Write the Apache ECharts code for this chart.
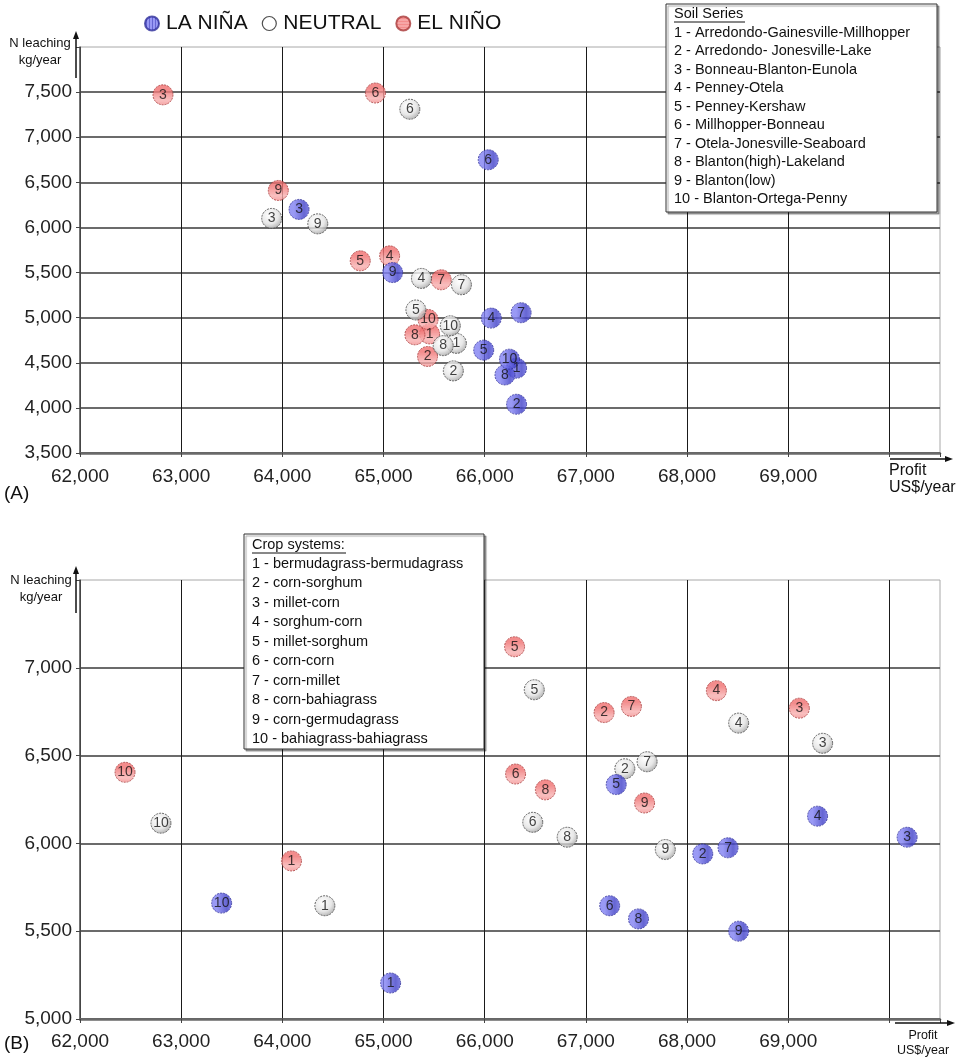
<!DOCTYPE html>
<html>
<head>
<meta charset="utf-8">
<script src="https://cdn.jsdelivr.net/npm/echarts@6/dist/echarts.min.js"></script>
<style>
html,body{margin:0;padding:0;background:#fff;}
#chart{width:960px;height:1058px;}
</style>
</head>
<body>
<div id="chart"></div>
<script>
// ---------- DATA ----------
const phaseNames = ['LA NIÑA', 'NEUTRAL', 'EL NIÑO'];
const pointIds = [1, 2, 3, 4, 5, 6, 7, 8, 9, 10];

// Panel A: soil series (profit US$/year, N leaching kg/year)
const soilNames = ['1 - Arredondo-Gainesville-Millhopper', '2 - Arredondo- Jonesville-Lake', '3 - Bonneau-Blanton-Eunola',
  '4 - Penney-Otela', '5 - Penney-Kershaw', '6 - Millhopper-Bonneau', '7 - Otela-Jonesville-Seaboard',
  '8 - Blanton(high)-Lakeland', '9 - Blanton(low)', '10 - Blanton-Ortega-Penny'];
const laNinaSoilProfit  = [66315, 66315, 64165, 66065, 65990, 66035, 66360, 66200, 65090, 66245];
const laNinaSoilN       = [4440, 4040, 6200, 4995, 4640, 6750, 5055, 4365, 5500, 4540];
const neutralSoilProfit = [65720, 65690, 63895, 65375, 65320, 65260, 65770, 65590, 64350, 65660];
const neutralSoilN      = [4715, 4410, 6100, 5435, 5085, 7310, 5365, 4690, 6040, 4910];
const elNinoSoilProfit  = [65455, 65435, 62820, 65060, 64770, 64920, 65570, 65310, 63960, 65440];
const elNinoSoilN       = [4820, 4570, 7470, 5685, 5630, 7490, 5420, 4810, 6410, 4980];

// Panel B: crop systems
const cropNames = ['1 - bermudagrass-bermudagrass', '2 - corn-sorghum', '3 - millet-corn', '4 - sorghum-corn',
  '5 - millet-sorghum', '6 - corn-corn', '7 - corn-millet', '8 - corn-bahiagrass', '9 - corn-germudagrass',
  '10 - bahiagrass-bahiagrass'];
const laNinaCropProfit  = [65070, 68155, 70175, 69290, 67300, 67235, 68405, 67520, 68510, 63400];
const laNinaCropN       = [5205, 5940, 6035, 6155, 6335, 5645, 5975, 5570, 5500, 5660];
const neutralCropProfit = [64420, 67385, 69340, 68510, 66490, 66475, 67605, 66815, 67785, 62800];
const neutralCropN      = [5645, 6425, 6570, 6685, 6875, 6120, 6465, 6035, 5965, 6115];
const elNinoCropProfit  = [64090, 67180, 69110, 68290, 66295, 66305, 67450, 66600, 67580, 62445];
const elNinoCropN       = [5900, 6745, 6770, 6870, 7120, 6395, 6780, 6305, 6230, 6405];

// Tick labels
const xTickValues  = [62000, 63000, 64000, 65000, 66000, 67000, 68000, 69000];
const yTickValuesA = [3500, 4000, 4500, 5000, 5500, 6000, 6500, 7000, 7500];
const yTickValuesB = [5000, 5500, 6000, 6500, 7000];

// ---------- CHART ----------
const FONT = 'Liberation Sans, Arial, sans-serif';
const fmt = v => v.toLocaleString('en-US');
const pts = (xs, ys) => pointIds.map((id, i) => [xs[i], ys[i], id]);

function stripePattern(base, stripe, vertical) {
  const c = document.createElement('canvas');
  c.width = 3; c.height = 3;
  const g = c.getContext('2d');
  g.fillStyle = base; g.fillRect(0, 0, 3, 3);
  g.fillStyle = stripe;
  if (vertical) g.fillRect(0, 0, 1, 3); else g.fillRect(0, 0, 3, 1);
  return { image: c, repeat: 'repeat' };
}

const styleOf = {
  'LA NIÑA': {
    color: stripePattern('#8080f2', '#4040c8', true),
    borderColor: '#30309a', borderWidth: 1, borderType: [2, 1]
  },
  'NEUTRAL': {
    color: { type: 'radial', x: 0.4, y: 0.35, r: 0.75,
      colorStops: [{ offset: 0, color: '#ffffff' }, { offset: 0.55, color: '#e2e2e2' }, { offset: 1, color: '#8c8c8c' }] },
    borderColor: '#444', borderWidth: 1, borderType: [2, 1]
  },
  'EL NIÑO': {
    color: stripePattern('#f07070', '#f8b0b0', false),
    borderColor: '#a83838', borderWidth: 1, borderType: [2, 1]
  }
};

function makeSeries(name, data, idx, z) {
  return {
    name: name, type: 'scatter', xAxisIndex: idx, yAxisIndex: idx, z: z,
    symbol: 'circle', symbolSize: 20,
    data: data,
    itemStyle: styleOf[name],
    label: { show: true, position: 'inside', formatter: p => p.value[2],
      fontSize: 14, fontFamily: FONT, color: '#111' },
    emphasis: { disabled: true }
  };
}

const series = [
  makeSeries('EL NIÑO', pts(elNinoSoilProfit, elNinoSoilN), 0, 2),
  makeSeries('NEUTRAL', pts(neutralSoilProfit, neutralSoilN), 0, 3),
  makeSeries('LA NIÑA', pts(laNinaSoilProfit, laNinaSoilN), 0, 4),
  makeSeries('EL NIÑO', pts(elNinoCropProfit, elNinoCropN), 1, 2),
  makeSeries('NEUTRAL', pts(neutralCropProfit, neutralCropN), 1, 3),
  makeSeries('LA NIÑA', pts(laNinaCropProfit, laNinaCropN), 1, 4)
];

function xAxis(idx, margin) {
  return {
    type: 'value', gridIndex: idx, min: 62000, max: 70500, interval: 1000,
    axisLine: { show: true, lineStyle: { color: '#6a6a6a', width: 2.5 } },
    axisTick: { show: true, length: 4, lineStyle: { color: '#444' } },
    axisLabel: { margin: margin, fontSize: 19, fontFamily: FONT, color: '#222',
      formatter: v => xTickValues.includes(v) ? fmt(v) : '' },
    splitLine: { show: true, showMaxLine: false, lineStyle: { color: '#1a1a1a', width: 1 } }
  };
}
function yAxis(idx, min, max, ticks) {
  return {
    type: 'value', gridIndex: idx, min: min, max: max, interval: 500,
    axisLine: { show: true, lineStyle: { color: '#555', width: 1.5 } },
    axisTick: { show: true, length: 4, lineStyle: { color: '#444' } },
    axisLabel: { margin: 8, fontSize: 19, fontFamily: FONT, color: '#222',
      formatter: v => ticks.includes(v) ? fmt(v) : '' },
    splitLine: { show: true, showMaxLine: false, lineStyle: { color: '#3a3a3a', width: 1.5 } }
  };
}

function textEl(x, y, text, size, opts) {
  return Object.assign({
    type: 'text', x: x, y: y, z: 20,
    style: Object.assign({ text: text, fontSize: size, fontFamily: FONT, fill: '#111',
      verticalAlign: 'middle', align: 'left' }, (opts && opts.style) || {})
  }, opts && opts.el || {});
}
function boxElements(x, y, w, h, title, titleY, firstY, step, lines, underlineW) {
  const els = [];
  els.push({ type: 'rect', z: 15, shape: { x: x, y: y, width: w, height: h },
    style: { fill: '#fff', stroke: '#333', lineWidth: 1, shadowColor: 'rgba(0,0,0,0.35)', shadowOffsetX: 2, shadowOffsetY: 2, shadowBlur: 1 } });
  els.push(textEl(x + 8, titleY, title, 14.5));
  els.push({ type: 'line', z: 20, shape: { x1: x + 8, y1: titleY + 8, x2: x + 8 + underlineW, y2: titleY + 8 },
    style: { stroke: '#111', lineWidth: 1 } });
  lines.forEach((t, i) => els.push(textEl(x + 8, firstY + i * step, t, 14.5)));
  return els;
}
function arrowV(x, yBottom, yTip) {
  return [
    { type: 'line', z: 20, shape: { x1: x, y1: yBottom, x2: x, y2: yTip + 6 }, style: { stroke: '#111', lineWidth: 1.5 } },
    { type: 'polygon', z: 20, shape: { points: [[x, yTip], [x - 3, yTip + 8], [x + 3, yTip + 8]] }, style: { fill: '#111' } }
  ];
}
function arrowH(y, xStart, xTip) {
  return [
    { type: 'line', z: 20, shape: { x1: xStart, y1: y, x2: xTip - 6, y2: y }, style: { stroke: '#111', lineWidth: 1.5 } },
    { type: 'polygon', z: 20, shape: { points: [[xTip, y], [xTip - 8, y - 3], [xTip - 8, y + 3]] }, style: { fill: '#111' } }
  ];
}

const graphic = [].concat(
  boxElements(666, 4, 271, 208, 'Soil Series', 14, 33, 18.44, soilNames, 71),
  boxElements(244, 534, 240, 215, 'Crop systems:', 545, 564, 19.44, cropNames, 94),
  arrowV(76, 78, 31),
  arrowV(76, 613, 566),
  arrowH(459, 890, 953),
  arrowH(1023, 895, 955),
  [
    textEl(40, 43, 'N leaching', 13, { style: { align: 'center' } }),
    textEl(40, 60, 'kg/year', 13, { style: { align: 'center' } }),
    textEl(41, 580, 'N leaching', 13, { style: { align: 'center' } }),
    textEl(41, 597, 'kg/year', 13, { style: { align: 'center' } }),
    textEl(889, 471, 'Profit', 16),
    textEl(889, 488, 'US$/year', 16),
    textEl(923, 1036, 'Profit', 12.5, { style: { align: 'center' } }),
    textEl(923, 1051, 'US$/year', 12.5, { style: { align: 'center' } }),
    textEl(4, 494, '(A)', 19),
    textEl(4, 1044, '(B)', 19)
  ]
);

const chart = echarts.init(document.getElementById('chart'), null, { renderer: 'canvas' });
chart.setOption({
  animation: false,
  backgroundColor: '#fff',
  legend: {
    left: 139, top: 8, itemWidth: 18, itemHeight: 14, itemGap: 14,
    textStyle: { fontSize: 21, fontFamily: FONT, color: '#111' },
    data: [
      { name: phaseNames[0], icon: 'circle', itemStyle: { borderType: 'solid' } },
      { name: phaseNames[1], icon: 'circle', itemStyle: { color: '#fff', borderColor: '#222', borderWidth: 1.2, borderType: 'solid' } },
      { name: phaseNames[2], icon: 'circle', itemStyle: { borderType: 'solid' } }
    ],
    selectedMode: false
  },
  grid: [
    { left: 80, top: 47, width: 860, height: 406, show: true, borderColor: '#a8a8a8', borderWidth: 1, backgroundColor: 'transparent' },
    { left: 80, top: 580, width: 860, height: 439, show: true, borderColor: '#a8a8a8', borderWidth: 1, backgroundColor: 'transparent' }
  ],
  xAxis: [xAxis(0, 14), xAxis(1, 13)],
  yAxis: [yAxis(0, 3500, 8000, yTickValuesA), yAxis(1, 5000, 7500, yTickValuesB)],
  series: series,
  graphic: graphic
});
</script>
</body>
</html>
